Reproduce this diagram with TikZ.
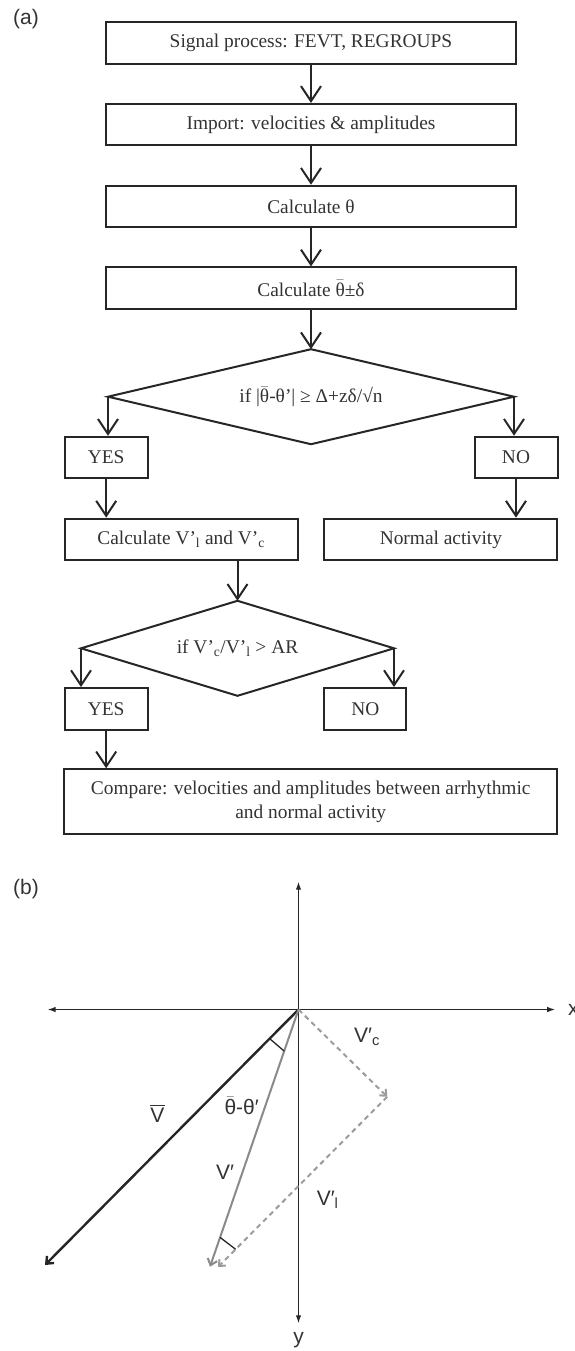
\documentclass[tikz,border=0pt]{standalone}
\usepackage{amsmath}
\usepackage{fontspec}
\setmainfont{Liberation Serif}
\setsansfont{Liberation Sans}
\usepackage{tikz}
\usetikzlibrary{calc,arrows.meta,shapes.geometric}
\definecolor{ink}{HTML}{262626}
\definecolor{txt}{HTML}{333333}
\definecolor{vgray}{HTML}{8A8A8A}
\definecolor{dgray}{HTML}{9C9C9C}
\newcommand{\flowfont}{\fontsize{19.4}{23.5}\selectfont}
\newcommand{\labfont}{\sffamily\fontsize{21}{25}\selectfont}
\newcommand{\thbar}{$\bar{\text{θ}}$}
\tikzset{
  box/.style={draw=ink, line width=2pt, inner sep=0pt, minimum height=41.5pt, text=txt, font=\flowfont},
  decision/.style={diamond, draw=ink, line width=2pt, inner sep=0pt, outer sep=0pt, aspect=4, text=txt, font=\flowfont},
  flow/.style={draw=ink, line width=2pt, -{Straight Barb[length=15pt,width=20pt]}},
  axis/.style={draw=ink, line width=1.3pt, {Latex[length=8pt,width=5.5pt]}-{Latex[length=8pt,width=5.5pt]}},
  vbar/.style={draw=ink, line width=2.4pt, -{Straight Barb[length=6pt,width=10pt]}},
  vprime/.style={draw=vgray, line width=2pt, -{Straight Barb[length=6pt,width=10pt]}},
  proj/.style={draw=dgray, line width=2pt, dash pattern=on 5pt off 4pt, -{Straight Barb[length=5pt,width=9pt]}},
  anglemark/.style={draw=ink, line width=1.3pt},
  labm/.style={text=txt, font=\labfont},
  panel/.style={text=txt, font=\labfont}
}

\begin{document}
\begin{tikzpicture}[x=1pt, y=-1pt]
  \useasboundingbox (0,0) rectangle (574,1351);

  % (a) flowchart
  \node[panel] (lba) at (26,19) {(a)};
  \node[box, minimum width=410pt] (sig) at (311,42.8) {Signal process: FEVT, REGROUPS};
  \node[box, minimum width=410pt] (imp) at (311,124.7) {Import: velocities \& amplitudes};
  \node[box, minimum width=410pt] (cth) at (311,206.5) {Calculate θ};
  \node[box, minimum width=410pt] (cmean) at (311,288.2) {Calculate \thbar±δ};
  \node[decision, minimum width=406pt, minimum height=95pt] (d1) at (311,396.7) {if |\thbar-θ’| ≥ Δ+zδ/√n};
  \node[box, minimum width=83pt] (y1) at (106.2,457.5) {YES};
  \node[box, minimum width=83pt] (n1) at (516,457.5) {NO};
  \node[box, minimum width=233pt] (cv) at (181.2,539.4) {Calculate V’\textsubscript{l} and V’\textsubscript{c}};
  \node[box, minimum width=233pt] (na) at (440.9,539.4) {Normal activity};
  \node[decision, minimum width=313pt, minimum height=95pt] (d2) at (237.5,648.3) {if V’\textsubscript{c}/V’\textsubscript{l} > AR};
  \node[box, minimum width=83pt] (y2) at (106.2,708.8) {YES};
  \node[box, minimum width=82pt] (n2) at (365.3,708.8) {NO};
  \node[box, minimum width=493pt, minimum height=65pt, align=center] (cmp) at (310.7,801.8)
    {Compare: velocities and amplitudes between arrhythmic\\and normal activity};

  \draw[flow] (sig) -- (imp);
  \draw[flow] (imp) -- (cth);
  \draw[flow] (cth) -- (cmean);
  \draw[flow] (cmean) -- (d1);
  \draw[flow] (d1.west) -- (d1.west |- y1.north);
  \draw[flow] (d1.east) -- (d1.east |- n1.north);
  \draw[flow] (y1.south) -- (y1.south |- cv.north);
  \draw[flow] (n1.south) -- (n1.south |- na.north);
  \draw[flow] (d2.north |- cv.south) -- (d2.north);
  \draw[flow] (d2.west) -- (d2.west |- y2.north);
  \draw[flow] (d2.east) -- (d2.east |- n2.north);
  \draw[flow] (y2.south) -- (y2.south |- cmp.north);

  % (b) vectors
  \node[panel] (lbb) at (26,889) {(b)};
  \coordinate (O) at (298.5,1009.5);
  \coordinate (xl) at (47.6,1009.5);
  \coordinate (xr) at (555.2,1009.5);
  \coordinate (yt) at (298.5,881.7);
  \coordinate (yb) at (298.5,1323.3);
  \draw[axis] (xl) -- (xr);
  \draw[axis] (yt) -- (yb);
  \node[labm, anchor=west, inner sep=0pt] (xlab) at (568,1009.5) {x};
  \node[labm] (ylab) at (298.5,1340) {y};

  \coordinate (Vbar) at (45,1265);
  \coordinate (Vp) at (210,1266.7);
  \coordinate (Vc) at (387.2,1096.7);
  \coordinate (Vl) at (218,1267);
  \draw[vbar] (O) -- (Vbar);
  \draw[vprime] (O) -- (Vp);
  \draw[proj] (O) -- (Vc);
  \draw[proj] (Vc) -- (Vl);
  \draw[anglemark] ($(O)!41pt!(Vbar)$) -- ($(O)!44pt!(Vp)$);
  \draw[anglemark] ($(Vp)!31pt!(O)$) -- ($(Vl)!25pt!(Vc)$);

  \node[labm] (lvbar) at (157.5,1113) {$\overline{\text{V}}$};
  \node[labm] (lang) at (241.7,1106) {\thbar-θ′};
  \node[labm] (lvp) at (225,1172) {V′};
  \node[labm] (lvc) at (367,1037) {V′\textsubscript{c}};
  \node[labm] (lvl) at (327.6,1200) {V′\textsubscript{l}};
\end{tikzpicture}
\end{document}
